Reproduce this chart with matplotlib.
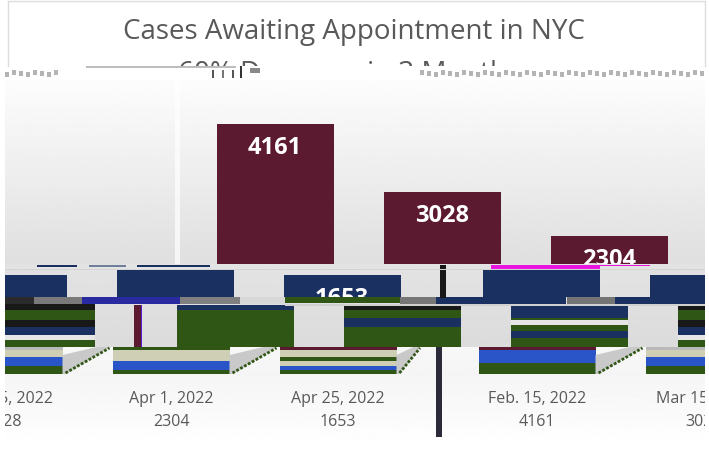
import numpy as np
import matplotlib
matplotlib.use("Agg")
import matplotlib.pyplot as plt
from matplotlib.patches import Rectangle, Polygon

W, H = 709, 449
TITLE = "Cases Awaiting Appointment in NYC"
SUBTITLE = "60% Decrease in 3 Months"
categories = ["Feb. 15, 2022", "Mar 15, 2022", "Apr 1, 2022", "Apr 25, 2022"]
values = [4161, 3028, 2304, 1653]

MAROON, NAVY, GREEN, BLUE = "#5b1a30", "#1a3060", "#2f5615", "#2a55c9"
BEIGE, BLACK, LIGHT = "#cfcfb6", "#181818", "#e6e6e6"
FONT = "Open Sans"
GREY = "#595959"

BASE, SCALE, X0, STEP, BW, WRAP = 374.0, 0.06, 275.0, 167.0, 117.0, 700.0

fig = plt.figure(figsize=(W / 100, H / 100), dpi=100, facecolor="white")


def pix_axes(x0, y0, x1, y1, z=1):
    ax = fig.add_axes([x0 / W, 1 - y1 / H, (x1 - x0) / W, (y1 - y0) / H], zorder=z)
    ax.set_xlim(x0, x1)
    ax.set_ylim(y1, y0)
    ax.axis("off")
    return ax


bg = pix_axes(0, 0, W, H, 0)


def grad(x0, y0, x1, y1, c0, c1):
    g = np.linspace(c0, c1, 64).reshape(-1, 1)
    bg.imshow(g, extent=(x0, x1, y1, y0), cmap="gray", vmin=0, vmax=1, aspect="auto", zorder=1)


grad(5, 80, 705, 264, 0.99, 0.875)
grad(5, 264, 705, 347, 0.89, 0.86)
grad(5, 347, 705, 374, 0.97, 0.96)
grad(5, 374, 705, 449, 0.96, 1.0)
bg.set_xlim(0, W)
bg.set_ylim(H, 0)
bg.plot([8, 8, 705, 705], [66, 1, 1, 66], color="#dcdcdc", lw=1, zorder=2)
bg.add_patch(Rectangle((175, 80), 5, 184, fc="white", ec="none", alpha=0.7, zorder=2))


def centres(shift):
    return [(i, X0 + STEP * i + shift) for i in range(len(values))]


def strip(y0, y1, shift, colors, labels=False):
    """One horizontal slice of the bars, displaced sideways and wrapping round."""
    ax = pix_axes(5, y0, 705, y1, 2)
    ax.set_ylim((BASE - y1) / SCALE, (BASE - y0) / SCALE)
    for i, c in centres(shift):
        if colors[i] is None:
            continue
        for k in (-1, 0, 1):
            xc = c + k * WRAP
            ax.bar(xc, values[i], width=BW, color=colors[i], linewidth=0)
            ypix = BASE - SCALE * values[i] + 22
            if labels and 5 < xc < 705 and y0 < ypix <= y1:
                ax.text(xc, values[i] - 24 / SCALE, str(values[i]), color="white",
                        fontsize=17, fontweight="bold", family=FONT,
                        ha="center", va="center", clip_on=True)
    return ax


# upper part
strip(80, 264, 0, [MAROON] * 4, labels=True)
# navy slice
strip(270, 297, 266, [NAVY] * 4, labels=True)
# green slices: (y0, y1, colours for Feb, Mar, Apr 1, Apr 25)
for y0, y1, cols in [
    (305, 310, [NAVY, BLACK, NAVY, BLACK]),
    (310, 318, [GREEN, GREEN, NAVY, GREEN]),
    (318, 320, [GREEN, NAVY, GREEN, GREEN]),
    (320, 325, [GREEN, NAVY, LIGHT, BLACK]),
    (325, 327, [GREEN, NAVY, GREEN, BLACK]),
    (327, 331, [GREEN, GREEN, GREEN, NAVY]),
    (331, 335, [GREEN, GREEN, NAVY, NAVY]),
    (335, 338, [GREEN, GREEN, NAVY, LIGHT]),
    (338, 340, [GREEN, GREEN, GREEN, LIGHT]),
    (340, 347, [GREEN, GREEN, GREEN, GREEN]),
]:
    strip(y0, y1, -40, cols)
# bottom slices
for y0, y1, cols in [
    (347, 350, [MAROON, "#b9b9b9", GREEN, MAROON]),
    (350, 357, [BLUE, BEIGE, BEIGE, BEIGE]),
    (357, 361, [BLUE, BLUE, BEIGE, GREEN]),
    (361, 363, [BLUE, BLUE, BLUE, BEIGE]),
    (363, 366, [GREEN, BLUE, BLUE, BEIGE]),
    (366, 370, [GREEN, GREEN, BLUE, BLUE]),
    (370, 374.2, [GREEN, GREEN, GREEN, GREEN]),
]:
    strip(y0, y1, 262, cols)

# sheared side walls beside the bottom slices
top = pix_axes(5, 0, 705, H, 3)
top.set_ylim(H, 0)
for i, c in centres(262):
    r = c % WRAP + BW / 2
    reach = 0.5 if i == 3 else 1.0
    top.add_patch(Polygon([(r, 374), (r, 355), (r + 34 * reach, 347), (r + 48 * reach, 347), (r + 3, 374)],
                          fc="#c9c9c9", ec="none"))
    top.plot([r + 3, r + 47 * reach], [373, 348], color=GREEN, lw=2, ls=(0, (1, 0.6)))

# tick labels
lab = pix_axes(5, 374, 705, 449, 3)
for i, c in centres(262):
    for k in (-1, 0):
        xc = c + k * WRAP
        if -60 < xc < 770:
            lab.text(xc, 399, categories[i], color=GREY, fontsize=11.5, family=FONT,
                     ha="center", va="center", clip_on=True)
            lab.text(xc, 422, str(values[i]), color=GREY, fontsize=11.5, family=FONT,
                     ha="center", va="center", clip_on=True)

# streaks and displaced pieces
streaks = [
    (5, 297, 29, 7, "#2b2b2b"), (34, 297, 48, 7, "#7a7a7a"), (82, 297, 118, 7, "#2a2aa0"),
    (180, 297, 60, 7, "#808080"), (240, 297, 45, 7, "#d8d8d8"), (285, 297, 115, 6, GREEN),
    (400, 297, 36, 7, "#777777"), (436, 297, 130, 8, NAVY), (567, 297, 48, 7, "#757575"),
    (615, 297, 90, 8, NAVY), (5, 304, 90, 3, BLACK), (285, 304, 420, 2, "#d0d0d0"),
    (37, 265, 40, 2, NAVY), (89, 265, 37, 2, "#6f7f99"), (137, 265, 73, 2, NAVY),
    (491, 265, 109, 5, "#ea14e0"), (600, 265, 50, 1, "#ea14e0"),
    (134, 305, 7, 42, MAROON), (141, 305, 1, 42, "#5020d0"), (440, 265, 6, 33, BLACK),
    (436, 347, 6, 90, "#2a2a3a"),
    (5, 269, 705, 1, "#d4d4d4"),
    (5, 270, 64, 5, "#e0e0e0"), (650, 270, 55, 5, "#e0e0e0"),
    (86, 66, 150, 2, "#bdbdbd"), (240, 66, 2, 12, "#333333"), (212, 70, 2, 8, "#555555"),
    (222, 70, 2, 8, "#777777"), (232, 70, 2, 8, "#555555"), (250, 68, 10, 5, "#8a8a8a"),
]
for x, y, w, h, c in streaks:
    top.add_patch(Rectangle((x, y), w, h, fc=c, ec="none"))
for start, stop in [(5, 55), (420, 705)]:
    for x in range(start, stop, 7):
        top.add_patch(Rectangle((x, 70 + (x % 3)), 4, 5, fc="#b4b4b4", ec="none"))

# title block
head = pix_axes(0, 0, W, 66, 4)
head.text(354, 32, TITLE, color=GREY, fontsize=20, family=FONT, ha="center", va="center", clip_on=True)
head.text(349, 74, SUBTITLE, color=GREY, fontsize=20, family=FONT, ha="center", va="center", clip_on=True)

fig.savefig("out.png", dpi=100, facecolor="white")
